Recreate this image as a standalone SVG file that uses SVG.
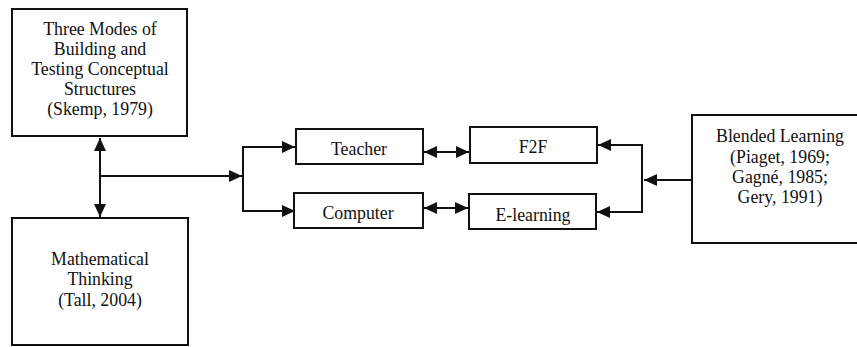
<svg xmlns="http://www.w3.org/2000/svg" width="857" height="347" viewBox="0 0 857 347">
  <style>
    .box { fill: #ffffff; stroke: #111111; stroke-width: 2; }
    .lbl { font-family: "Liberation Serif", "Times New Roman", serif; font-size: 17.8px; fill: #111111; text-anchor: middle; }
    .wire { fill: none; stroke: #111111; stroke-width: 2; }
  </style>
  <defs>
    <marker id="head" viewBox="0 0 13 12" refX="13" refY="6" markerWidth="13" markerHeight="12" markerUnits="userSpaceOnUse" orient="auto-start-reverse">
      <path d="M0,0 L13,6 L0,12 Z" fill="#111111"/>
    </marker>
    <clipPath id="clipComputer"><rect x="294" y="193" width="129" height="33"/></clipPath>
    <clipPath id="clipElearn"><rect x="469" y="194" width="127" height="33"/></clipPath>
  </defs>
  <rect width="857" height="347" fill="#ffffff"/>

  <g id="connectors">
    <!-- trunk between the two left boxes -->
    <line class="wire" x1="100" y1="176" x2="100" y2="138" marker-end="url(#head)"/>
    <line class="wire" x1="100" y1="176" x2="100" y2="217" marker-end="url(#head)"/>
    <line class="wire" x1="100" y1="176" x2="242" y2="176" marker-end="url(#head)"/>
    <!-- left fork -->
    <polyline class="wire" points="295,147 243,147 243,211 295,211" marker-start="url(#head)" marker-end="url(#head)"/>
    <!-- pairings -->
    <line class="wire" x1="424" y1="152" x2="469" y2="152" marker-start="url(#head)" marker-end="url(#head)"/>
    <line class="wire" x1="424" y1="208" x2="468" y2="208" marker-start="url(#head)" marker-end="url(#head)"/>
    <!-- right fork -->
    <polyline class="wire" points="598,145 642,145 642,212 597,212" marker-start="url(#head)" marker-end="url(#head)"/>
    <line class="wire" x1="692" y1="180" x2="644" y2="180" marker-end="url(#head)"/>
  </g>

  <g id="skemp">
    <rect class="box" x="12" y="9" width="175" height="127"/>
    <text class="lbl" x="100" y="35">Three Modes of</text>
    <text class="lbl" x="100" y="55">Building and</text>
    <text class="lbl" x="100" y="75">Testing Conceptual</text>
    <text class="lbl" x="100" y="95">Structures</text>
    <text class="lbl" x="100" y="115">(Skemp, 1979)</text>
  </g>

  <g id="tall">
    <rect class="box" x="12" y="218" width="176" height="127"/>
    <text class="lbl" x="100" y="265">Mathematical</text>
    <text class="lbl" x="100" y="285">Thinking</text>
    <text class="lbl" x="100" y="306">(Tall, 2004)</text>
  </g>

  <g id="teacher">
    <rect class="box" x="296" y="129" width="127" height="35"/>
    <text class="lbl" x="359" y="155">Teacher</text>
  </g>

  <g id="f2f">
    <rect class="box" x="470" y="127" width="127" height="36"/>
    <text class="lbl" x="533" y="153">F2F</text>
  </g>

  <g id="computer">
    <rect class="box" x="294" y="193" width="129" height="35"/>
    <text class="lbl" x="358" y="219" clip-path="url(#clipComputer)">Computer</text>
  </g>

  <g id="elearning">
    <rect class="box" x="469" y="194" width="127" height="35"/>
    <text class="lbl" x="533" y="221" clip-path="url(#clipElearn)">E-learning</text>
  </g>

  <g id="blended">
    <rect class="box" x="692" y="115" width="175" height="128"/>
    <text class="lbl" x="780" y="142">Blended Learning</text>
    <text class="lbl" x="780" y="163">(Piaget, 1969;</text>
    <text class="lbl" x="780" y="183">Gagné, 1985;</text>
    <text class="lbl" x="780" y="203">Gery, 1991)</text>
  </g>
</svg>
